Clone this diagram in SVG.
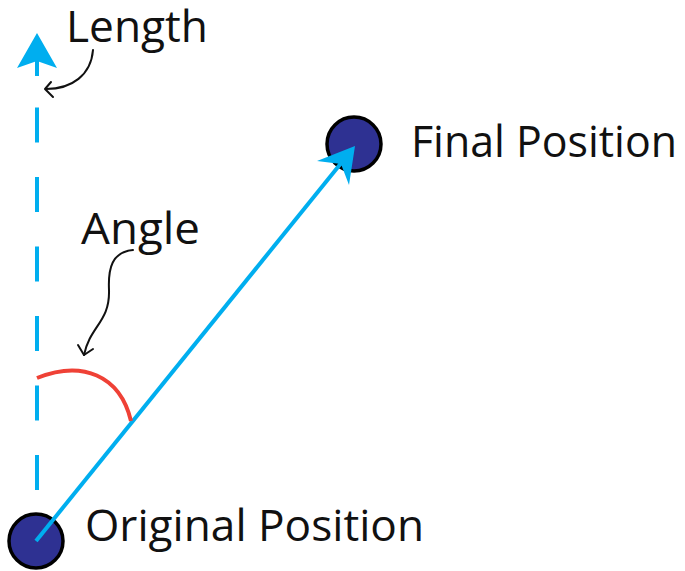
<svg xmlns="http://www.w3.org/2000/svg" width="685" height="571" viewBox="0 0 685 571">
<style>
.lbl{font-family:"Open Sans","Liberation Sans",sans-serif;font-size:44px;fill:#111}
.blue{stroke:#00AEEF;stroke-width:4;fill:none}
.note{stroke:#111;stroke-width:2;fill:none;stroke-linecap:round;stroke-linejoin:round}
.node{fill:#2E3192;stroke:#000;stroke-width:3.5}
</style>
<rect width="685" height="571" fill="#fff"/>
<g id="nodes">
<g id="original"><circle class="node" cx="36" cy="541" r="27"/></g>
<g id="final"><circle class="node" cx="354" cy="144" r="27"/></g>
</g>
<g id="connectors">
<line class="blue" x1="37" y1="490" x2="37" y2="107.5" stroke-dasharray="35 34.5"/>
<line class="blue" x1="37" y1="60" x2="37" y2="76"/>
<polygon points="37,33 57,68 37,61 17,68" fill="#00AEEF"/>
<line class="blue" x1="36" y1="541" x2="342" y2="162"/>
<polygon points="355,146 349,185 341,164 317,161" fill="#00AEEF"/>
<path d="M37,378 C82,360 120,375 131,421" fill="none" stroke="#EF4136" stroke-width="4"/>
<path class="note" d="M93,50 C91,75 72,89 46,89"/>
<path class="note" d="M51,82 L45,89 L53,97"/>
<path class="note" d="M133,250 C112,252 108,268 109,290 C110,322 90,326 84,355"/>
<path class="note" d="M78,345 L84,355 L93,349"/>
</g>
<g id="labels">
<text class="lbl" x="66" y="42" textLength="142" lengthAdjust="spacingAndGlyphs">Length</text>
<text class="lbl" x="81" y="244" textLength="119" lengthAdjust="spacingAndGlyphs">Angle</text>
<text class="lbl" x="411" y="157" textLength="266" lengthAdjust="spacingAndGlyphs">Final Position</text>
<text class="lbl" x="85" y="541" textLength="339" lengthAdjust="spacingAndGlyphs">Original Position</text>
</g>
</svg>
